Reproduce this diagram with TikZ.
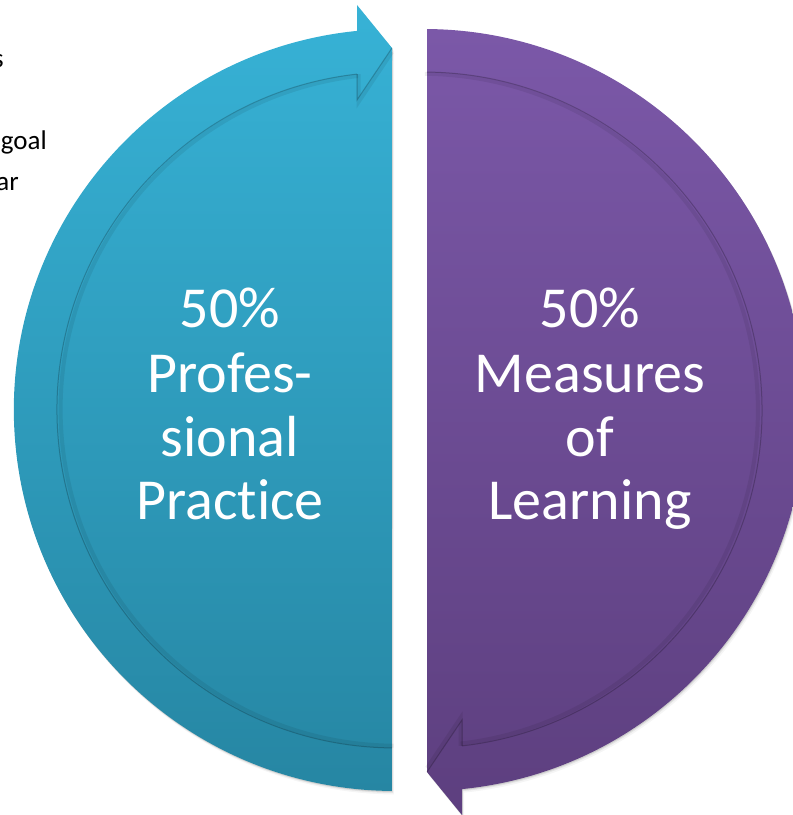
\documentclass[tikz,border=0pt]{standalone}
\usepackage{fontspec}
\newfontfamily\calibri[Ligatures=NoCommon]{Carlito}
\definecolor{cyanTop}{HTML}{37B2D6}
\definecolor{cyanBot}{HTML}{2686A3}
\definecolor{purTop}{HTML}{7B58A8}
\definecolor{purBot}{HTML}{5D3F7F}
\begin{document}
\begin{tikzpicture}[x=1pt,y=1pt,
  labeltext/.style={font=\calibri\fontsize{58}{64}\selectfont, text=white, anchor=base, inner sep=0pt},
  sidetext/.style={font=\calibri\fontsize{27}{32}\selectfont, text=black, anchor=base east, inner sep=0pt},
  edgeline/.style={draw=black, draw opacity=0.22, line width=1pt},
  edgeshadow/.style={draw=black, draw opacity=0.07, line width=4pt},
  dropshadow/.style={fill=black, fill opacity=#1}]
\useasboundingbox (0,0) rectangle (793,815);
\clip (0,0) rectangle (793,815);
\def\leftshape{(392,767) -- (357,810) -- (357,784.1) arc[start angle=95.7, end angle=269.55, radius=381] -- cycle}
\def\rightshape{(427,43) -- (462,0) -- (462,25.9) arc[start angle=275.7, end angle=449.55, radius=381] -- cycle}
% soft drop shadows
\foreach \s/\o in {1/0.10, 2/0.07, 3.5/0.04}{
  \begin{scope}[shift={(0.6*\s,-\s)}]
    \path[dropshadow=\o] \leftshape;
    \path[dropshadow=\o] \rightshape;
  \end{scope}
}
% left half
\shade[top color=cyanTop, bottom color=cyanBot] \leftshape;
\path[edgeshadow] (358,739) arc[start angle=96.6, end angle=269.5, radius=336];
\path[edgeline] (357,740.9) arc[start angle=96.45, end angle=269.5, radius=338];
\path[edgeshadow] (358.5,740.9) -- (358.5,713) -- (392,763);
\path[edgeline] (357,740.9) -- (357,715) -- (392,767);
% right half
\shade[top color=purTop, bottom color=purBot] \rightshape;
\path[edgeshadow] (460.5,71.4) arc[start angle=276.6, end angle=449.5, radius=336];
\path[edgeline] (462,69.1) arc[start angle=276.45, end angle=449.5, radius=338];
\path[edgeshadow] (460.5,69.1) -- (460.5,97) -- (427,47);
\path[edgeline] (462,69.1) -- (462,95) -- (427,43);
% labels
\node[labeltext] (l1) at (230,487) {50\%};
\node[labeltext] (l2) at (230,422) {Profes-};
\node[labeltext] (l3) at (230,358) {sional};
\node[labeltext] (l4) at (230,295) {Pract\kern0pt ice};
\node[labeltext] (r1) at (590,487) {50\%};
\node[labeltext] (r2) at (590,422) {Measures};
\node[labeltext] (r3) at (590,358) {of};
\node[labeltext] (r4) at (590,295) {Learning};
% clipped side text
\node[sidetext] (s1) at (4,747) {s};
\node[sidetext] (s2) at (47,665) {goal};
\node[sidetext] (s3) at (19,624) {ar};
\end{tikzpicture}
\end{document}
